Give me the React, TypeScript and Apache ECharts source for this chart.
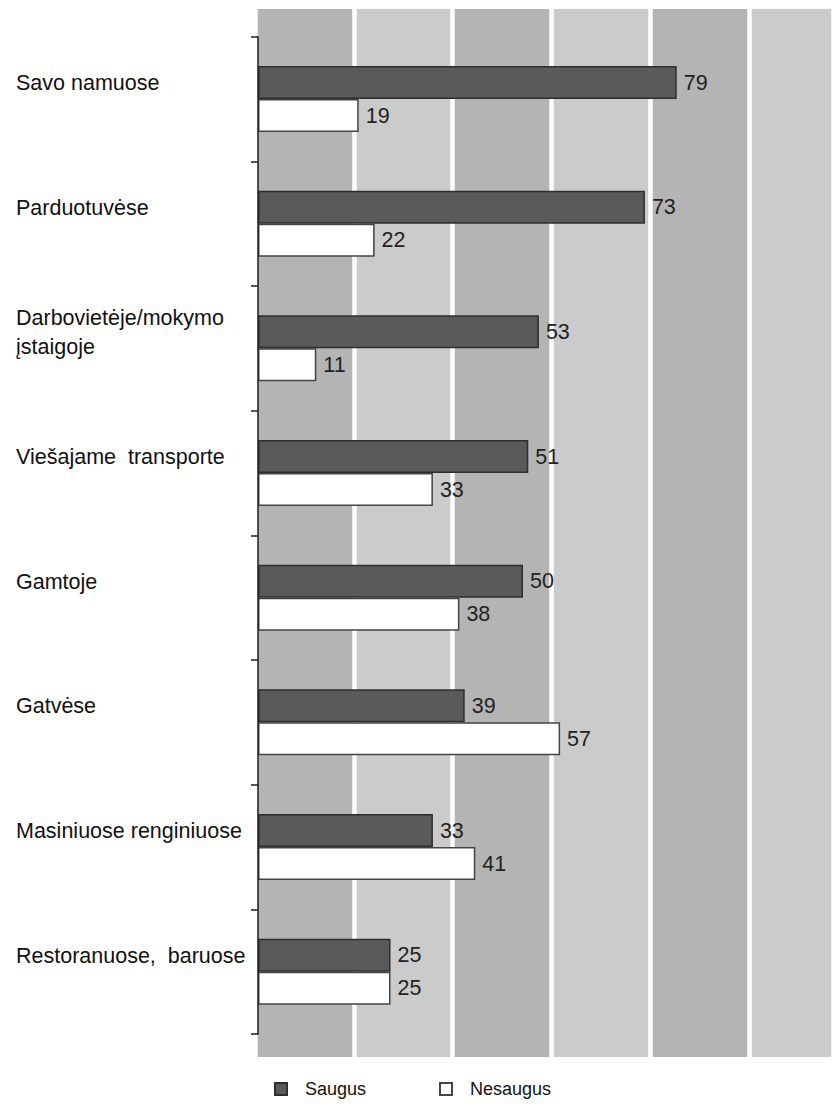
import React, { useEffect, useRef } from "react";
import * as echarts from "echarts";

const categories: string[] = [
  "Savo namuose",
  "Parduotuvėse",
  "Darbovietėje/mokymo\nįstaigoje",
  "Viešajame  transporte",
  "Gamtoje",
  "Gatvėse",
  "Masiniuose renginiuose",
  "Restoranuose,  baruose",
];

const saugus: number[] = [79, 73, 53, 51, 50, 39, 33, 25];
const nesaugus: number[] = [19, 22, 11, 33, 38, 57, 41, 25];

const seriesNames: string[] = ["Saugus", "Nesaugus"];

const FONT = "'Liberation Sans', Arial, Helvetica, sans-serif";

export default function App() {
  const ref = useRef<HTMLDivElement>(null);

  useEffect(() => {
    if (!ref.current) return;
    const chart = echarts.init(ref.current, undefined, { renderer: "svg" });

    const bandLeft = 255;
    const bandWidthPx = 98.75;
    const bandMax = (833 - bandLeft) / bandWidthPx;
    const pxPerUnit = 5.3;
    const valueMax = (833 - 258) / pxPerUnit;

    const labelFormatter = (v: string) =>
      v
        .split("\n")
        .map((line) => `{t|${line}}`)
        .join("\n") + "\n{s|}";

    const option: any = {
      animation: false,
      backgroundColor: "#ffffff",
      textStyle: { fontFamily: FONT },
      grid: [
        { left: bandLeft, right: 0, top: 9, bottom: 1104 - 1057, containLabel: false },
        { left: 258, right: 0, top: 36.7, bottom: 1104 - 1034, containLabel: false },
      ],
      xAxis: [
        {
          gridIndex: 0,
          type: "value",
          min: 0,
          max: bandMax,
          interval: 1,
          z: 0,
          axisLine: { show: false },
          axisTick: { show: false },
          axisLabel: { show: false },
          splitLine: { show: true, lineStyle: { color: "#ffffff", width: 4.5 } },
          splitArea: { show: true, areaStyle: { color: ["#b4b4b4", "#cbcbcb"] } },
        },
        {
          gridIndex: 1,
          type: "value",
          min: 0,
          max: valueMax,
          axisLine: { show: false },
          axisTick: { show: false },
          axisLabel: { show: false },
          splitLine: { show: false },
          splitArea: { show: false },
        },
      ],
      yAxis: [
        {
          gridIndex: 0,
          type: "value",
          show: false,
        },
        {
          gridIndex: 1,
          type: "category",
          data: categories,
          inverse: true,
          z: 5,
          axisLine: { show: true, onZero: true, lineStyle: { color: "#222222", width: 1.5 } },
          axisTick: { show: true, length: 7, inside: false, lineStyle: { color: "#222222", width: 1.5 } },
          axisLabel: {
            show: true,
            align: "left",
            margin: 242,
            verticalAlign: "middle",
            formatter: labelFormatter,
            rich: {
              t: {
                color: "#111111",
                fontSize: 21.5,
                fontFamily: FONT,
                lineHeight: 29,
                height: 29,
                align: "left",
              },
              s: {
                fontSize: 10,
                lineHeight: 32,
                height: 32,
              },
            },
          },
          splitLine: { show: false },
        },
      ],
      legend: [
        {
          data: [seriesNames[0]],
          left: 274,
          top: 1080,
          padding: 0,
          itemWidth: 12,
          itemHeight: 12,
          icon: "rect",
          textStyle: { fontSize: 18, color: "#111111", fontFamily: FONT, lineHeight: 18, padding: [0, 0, 0, 13] },
        },
        {
          data: [seriesNames[1]],
          left: 439,
          top: 1080,
          padding: 0,
          itemWidth: 12,
          itemHeight: 12,
          icon: "rect",
          textStyle: { fontSize: 18, color: "#111111", fontFamily: FONT, lineHeight: 18, padding: [0, 0, 0, 13] },
        },
      ],
      series: [
        {
          name: seriesNames[0],
          type: "bar",
          xAxisIndex: 1,
          yAxisIndex: 1,
          data: saugus,
          barWidth: 33,
          barGap: "0%",
          itemStyle: { color: "#5a5a5a", borderColor: "#2e2e2e", borderWidth: 1.5 },
          label: {
            show: true,
            position: "right",
            distance: 7,
            color: "#222222",
            fontSize: 21.5,
            fontFamily: FONT,
          },
        },
        {
          name: seriesNames[1],
          type: "bar",
          xAxisIndex: 1,
          yAxisIndex: 1,
          data: nesaugus,
          barWidth: 33,
          barGap: "0%",
          itemStyle: { color: "#ffffff", borderColor: "#444444", borderWidth: 1.5 },
          label: {
            show: true,
            position: "right",
            distance: 7,
            color: "#222222",
            fontSize: 21.5,
            fontFamily: FONT,
          },
        },
      ],
    };

    chart.setOption(option);
    return () => chart.dispose();
  }, []);

  return (
    <div
      ref={ref}
      style={{ position: "absolute", left: 0, top: 0, width: 833, height: 1104 }}
    />
  );
}
